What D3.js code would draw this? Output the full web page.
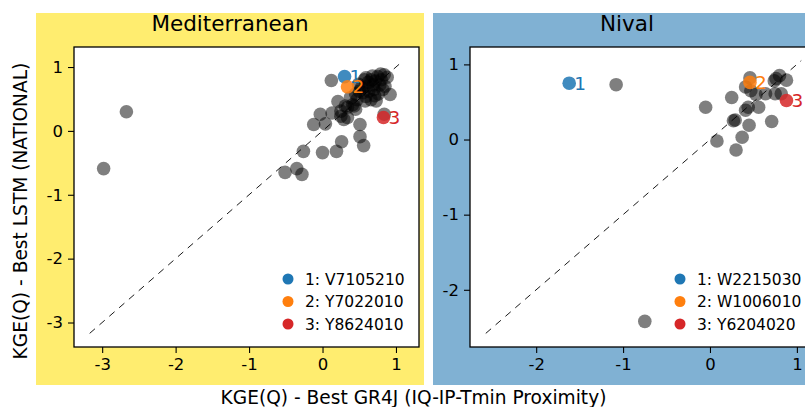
<!DOCTYPE html>
<html>
<head>
<meta charset="utf-8">
<script src="https://cdn.jsdelivr.net/npm/d3@7"></script>
<style>
  body { margin: 0; background: #fff; }
  svg { display: block; font-family: "DejaVu Sans", sans-serif; }
</style>
</head>
<body>
<div id="chart"></div>
<script>
// KGE(Q) best GR4J (x) vs best LSTM (y) per station
var medPoints = [
  [-2.98, -0.59], [-2.67, 0.30], [-0.51, -0.65], [-0.35, -0.59], [-0.28, -0.68],
  [-0.26, -0.32], [0.00, -0.34], [0.19, -0.32], [0.26, -0.17], [0.51, -0.09],
  [0.56, -0.23], [0.51, 0.10], [-0.12, 0.10], [-0.03, 0.26], [0.04, 0.11],
  [0.13, 0.28], [0.21, 0.46], [0.25, 0.23], [0.29, 0.18], [0.34, 0.37],
  [0.41, 0.41], [0.45, 0.34], [0.12, 0.79], [0.84, 0.26], [0.92, 0.57],
  [0.84, 0.88], [0.75, 0.85], [0.66, 0.80], [0.61, 0.70], [0.70, 0.65],
  [0.59, 0.54], [0.47, 0.49], [0.82, 0.65], [0.66, 0.49], [0.43, 0.39],
  [0.55, 0.60], [0.50, 0.62], [0.72, 0.78], [0.78, 0.72], [0.88, 0.84],
  [0.63, 0.62], [0.76, 0.58], [0.69, 0.72], [0.53, 0.68], [0.80, 0.80],
  [0.45, 0.58], [0.38, 0.52], [0.62, 0.76], [0.73, 0.47], [0.57, 0.80],
  [0.85, 0.70], [0.59, 0.83], [0.25, 0.31], [0.31, 0.39], [0.34, 0.21],
  [0.68, 0.86], [0.79, 0.89], [0.71, 0.55], [0.58, 0.47], [0.49, 0.73]
]
var nivPoints = [
  [-1.08, 0.73], [-0.75, -2.42], [-0.05, 0.43], [0.08, -0.02], [0.30, -0.14],
  [0.37, 0.03], [0.25, 0.56], [0.27, 0.25], [0.29, 0.26], [0.45, 0.19],
  [0.44, 0.43], [0.41, 0.39], [0.41, 0.70], [0.46, 0.82], [0.47, 0.65],
  [0.56, 0.43], [0.64, 0.61], [0.71, 0.24], [0.75, 0.61], [0.76, 0.81],
  [0.80, 0.85], [0.82, 0.61], [0.88, 0.79], [0.74, 0.78], [0.53, 0.60]
]

// highlighted stations
var medHighlight = [[0.30, 0.85], [0.34, 0.69], [0.83, 0.21]]
var medStations = ['V7105210', 'Y7022010', 'Y8624010']
var nivHighlight = [[-1.62, 0.75], [0.46, 0.76], [0.88, 0.52]]
var nivStations = ['W2215030', 'W1006010', 'Y6204020']
var hlColors = ['#1f77b4', '#ff7f0e', '#d62728']

var ticks = [-3, -2, -1, 0, 1]

var svg = d3.select('#chart').append('svg')
  .attr('width', 805)
  .attr('height', 407)

function drawPanel (opts) {
  svg.append('rect')
    .attr('x', opts.bgX).attr('y', 13)
    .attr('width', 388).attr('height', 372)
    .attr('fill', opts.bgColor)

  svg.append('text')
    .attr('x', opts.bgX + 194).attr('y', 31)
    .attr('text-anchor', 'middle')
    .attr('font-size', 21.5)
    .text(opts.title)

  var x = d3.scaleLinear().domain(opts.domain).range([opts.x0, opts.x1])
  var y = d3.scaleLinear().domain(opts.domain).range([347, 47])

  var g = svg.append('g')
  g.append('rect')
    .attr('x', opts.x0).attr('y', 47)
    .attr('width', opts.x1 - opts.x0).attr('height', 300)
    .attr('fill', '#fff')

  var tk = ticks.filter(function (t) { return t >= opts.domain[0] && t <= opts.domain[1] })
  var fmt = function (d) { return String(d) }

  var xAxis = d3.axisBottom(x).tickValues(tk).tickFormat(fmt).tickSize(6).tickPadding(5)
  var yAxis = d3.axisLeft(y).tickValues(tk).tickFormat(fmt).tickSize(6).tickPadding(5)

  var xa = g.append('g').attr('transform', 'translate(0,347)').call(xAxis)
  var ya = g.append('g').attr('transform', 'translate(' + opts.x0 + ',0)').call(yAxis)
  ;[xa, ya].forEach(function (a) {
    a.select('.domain').remove()
    a.selectAll('text').attr('font-size', 16.5).attr('font-family', 'DejaVu Sans').attr('fill', '#000')
    a.selectAll('line').attr('stroke', '#000').attr('stroke-width', 1.1)
  })

  // 1:1 line
  g.append('line')
    .attr('x1', x(opts.line[0])).attr('y1', y(opts.line[0]))
    .attr('x2', x(opts.line[1])).attr('y2', y(opts.line[1]))
    .attr('stroke', '#000').attr('stroke-width', 0.9)
    .attr('stroke-dasharray', '7,6')

  g.selectAll('circle.pt').data(opts.points).enter().append('circle')
    .attr('class', 'pt')
    .attr('cx', function (d) { return x(d[0]) })
    .attr('cy', function (d) { return y(d[1]) })
    .attr('r', 6.8)
    .attr('fill', '#000')
    .attr('fill-opacity', 0.5)

  g.selectAll('circle.hl').data(opts.highlight).enter().append('circle')
    .attr('class', 'hl')
    .attr('cx', function (d) { return x(d[0]) })
    .attr('cy', function (d) { return y(d[1]) })
    .attr('r', 6.8)
    .attr('fill', function (d, i) { return hlColors[i] })
    .attr('fill-opacity', 0.85)

  g.selectAll('text.hl').data(opts.highlight).enter().append('text')
    .attr('class', 'hl')
    .attr('x', function (d) { return x(d[0]) + 5 })
    .attr('y', function (d) { return y(d[1]) + 6.5 })
    .attr('font-size', 18.5)
    .attr('fill', function (d, i) { return hlColors[i] })
    .text(function (d, i) { return i + 1 })

  // legend
  var lg = g.append('g')
  opts.stations.forEach(function (s, i) {
    var ly = 279 + i * 22.5
    lg.append('circle')
      .attr('cx', opts.legendX).attr('cy', ly).attr('r', 5.5)
      .attr('fill', hlColors[i])
    lg.append('text')
      .attr('x', opts.legendX + 17).attr('y', ly + 5.5)
      .attr('font-size', 15.5)
      .text((i + 1) + ': ' + s)
  })

  g.append('rect')
    .attr('x', opts.x0).attr('y', 47)
    .attr('width', opts.x1 - opts.x0).attr('height', 300)
    .attr('fill', 'none').attr('stroke', '#000').attr('stroke-width', 1.3)
}

drawPanel({
  title: 'Mediterranean', bgX: 36, bgColor: '#ffed6f',
  x0: 74, x1: 419, domain: [-3.3835, 1.3135], line: [-3.17, 1.1],
  points: medPoints, highlight: medHighlight, stations: medStations, legendX: 288
})
drawPanel({
  title: 'Nival', bgX: 433, bgColor: '#80b1d3',
  x0: 470, x1: 817, domain: [-2.7615, 1.2315], line: [-2.58, 1.05],
  points: nivPoints, highlight: nivHighlight, stations: nivStations, legendX: 680
})

svg.append('text')
  .attr('x', 413.5).attr('y', 404)
  .attr('text-anchor', 'middle')
  .attr('font-size', 18.6)
  .text('KGE(Q) - Best GR4J (IQ-IP-Tmin Proximity)')

svg.append('text')
  .attr('transform', 'translate(27,211) rotate(-90)')
  .attr('text-anchor', 'middle')
  .attr('font-size', 18.6)
  .text('KGE(Q) - Best LSTM (NATIONAL)')
</script>
</body>
</html>
